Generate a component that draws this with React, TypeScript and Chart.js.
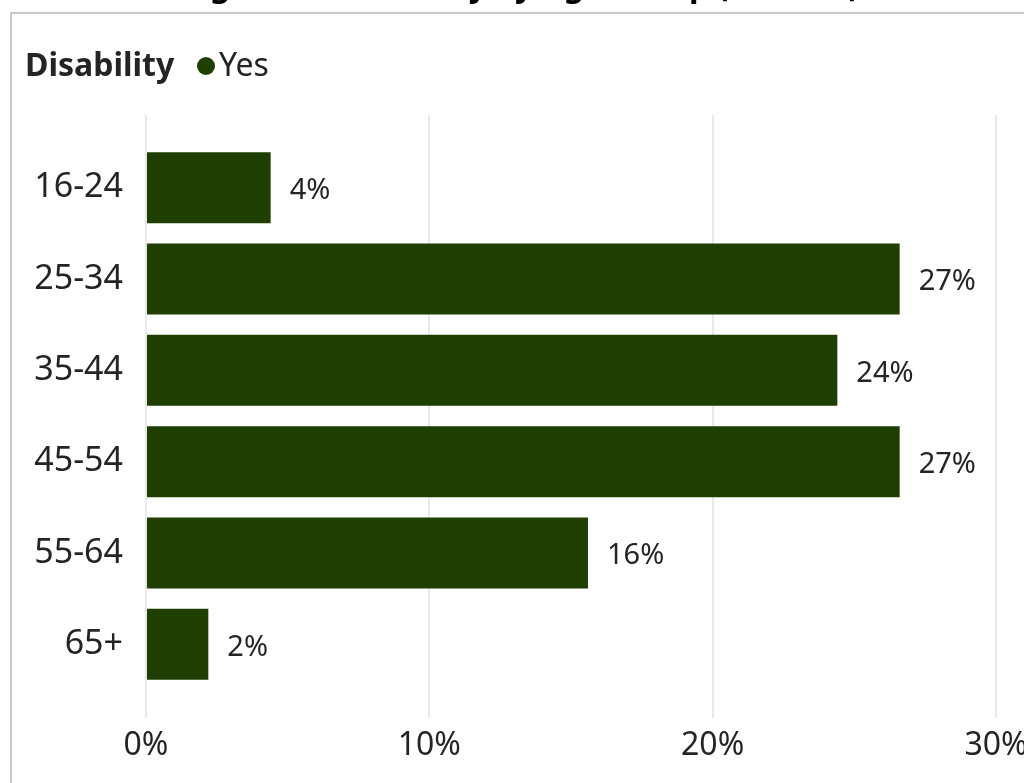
import React, { useEffect, useRef } from "react";
import { Chart, registerables } from "chart.js";

Chart.register(...registerables);

const chartTitle = "Percentage with Disability by Age Group (2022-23)";
const legendTitle = "Disability";
const seriesName = "Yes";
const ageGroups = ["16-24", "25-34", "35-44", "45-54", "55-64", "65+"];
const disabilityShare = [4.4, 26.6, 24.4, 26.6, 15.6, 2.2];
const xTickStep = 10;
const xMax = 30;

const BAR_COLOR = "#1f3f00";
const TEXT_COLOR = "#252423";
const GRID_COLOR = "#e9e9e9";
const FONT = "'Noto Sans', 'Open Sans', sans-serif";

const CANVAS_W = 1060;
const CANVAS_H = 783;

const overlayPlugin = {
  id: "overlay",
  beforeDatasetsDraw(chart: any) {
    const ctx = chart.ctx;
    const xs = chart.scales.x;
    const top = chart.chartArea.top;
    ctx.save();
    ctx.strokeStyle = GRID_COLOR;
    ctx.lineWidth = 2;
    xs.ticks.forEach((t: any) => {
      const x = Math.round(xs.getPixelForValue(t.value));
      ctx.beginPath();
      ctx.moveTo(x, top - 27);
      ctx.lineTo(x, top);
      ctx.stroke();
    });
    ctx.restore();
  },
  afterDatasetsDraw(chart: any) {
    const ctx = chart.ctx;
    const meta = chart.getDatasetMeta(0);
    const values = chart.data.datasets[0].data as number[];
    ctx.save();
    ctx.font = `29px ${FONT}`;
    ctx.fillStyle = TEXT_COLOR;
    ctx.textAlign = "left";
    ctx.textBaseline = "middle";
    meta.data.forEach((bar: any, i: number) => {
      ctx.fillText(Math.round(values[i]) + "%", bar.x + 19, bar.y + 3);
    });
    ctx.restore();
  },
  afterDraw(chart: any) {
    const ctx = chart.ctx;
    const ds = chart.data.datasets[0];
    ctx.save();
    // clipped title (only descenders visible)
    ctx.font = `bold 32px ${FONT}`;
    ctx.fillStyle = "#000000";
    ctx.textAlign = "left";
    ctx.textBaseline = "alphabetic";
    ctx.fillText(chartTitle, 68, -4);
    // legend
    ctx.fillStyle = TEXT_COLOR;
    ctx.font = `bold 32px ${FONT}`;
    ctx.fillText(legendTitle, 25, 76);
    ctx.fillStyle = ds.backgroundColor;
    ctx.beginPath();
    ctx.arc(206, 66, 9, 0, Math.PI * 2);
    ctx.fill();
    ctx.fillStyle = TEXT_COLOR;
    ctx.font = `32px ${FONT}`;
    ctx.fillText(ds.label, 219, 76);
    ctx.restore();
  },
};

function BarChart() {
  const canvasRef = useRef<HTMLCanvasElement | null>(null);

  useEffect(() => {
    if (!canvasRef.current) return;
    const chart = new Chart(canvasRef.current, {
      type: "bar",
      data: {
        labels: ageGroups,
        datasets: [
          {
            label: seriesName,
            data: disabilityShare,
            backgroundColor: BAR_COLOR,
            borderWidth: 0,
            categoryPercentage: 1,
            barPercentage: 0.777,
          },
        ],
      },
      options: {
        indexAxis: "y",
        responsive: false,
        animation: false,
        layout: { padding: { top: 142, left: 0, right: 64, bottom: 0 } },
        plugins: {
          legend: { display: false },
          title: { display: false },
          tooltip: { enabled: false },
        },
        scales: {
          x: {
            min: 0,
            max: xMax,
            afterFit: (s: any) => {
              s.height = 93;
            },
            border: { display: false },
            grid: {
              color: GRID_COLOR,
              lineWidth: 2,
              drawTicks: true,
              tickLength: 28,
              tickColor: GRID_COLOR,
            },
            ticks: {
              stepSize: xTickStep,
              padding: 9,
              color: TEXT_COLOR,
              font: { family: FONT, size: 32 },
              maxRotation: 0,
              callback: (v: any) => v + "%",
            },
          },
          y: {
            afterFit: (s: any) => {
              s.width = 146;
            },
            border: { display: false },
            grid: { display: false },
            ticks: {
              padding: 15,
              color: TEXT_COLOR,
              font: { family: FONT, size: 34 },
            },
          },
        },
      },
      plugins: [overlayPlugin],
    });
    return () => chart.destroy();
  }, []);

  return (
    <canvas
      ref={canvasRef}
      width={CANVAS_W}
      height={CANVAS_H}
      style={{ position: "absolute", left: 0, top: 0, display: "block" }}
    />
  );
}

export default function App() {
  return (
    <div
      style={{
        position: "fixed",
        left: 0,
        top: 0,
        width: 1024,
        height: 783,
        overflow: "hidden",
        background: "#ffffff",
      }}
    >
      <div
        style={{
          position: "absolute",
          left: 10,
          top: 12,
          width: 2000,
          height: 2000,
          borderLeft: "2px solid #c8c8c8",
          borderTop: "2px solid #c8c8c8",
          boxSizing: "border-box",
        }}
      />
      <BarChart />
    </div>
  );
}
